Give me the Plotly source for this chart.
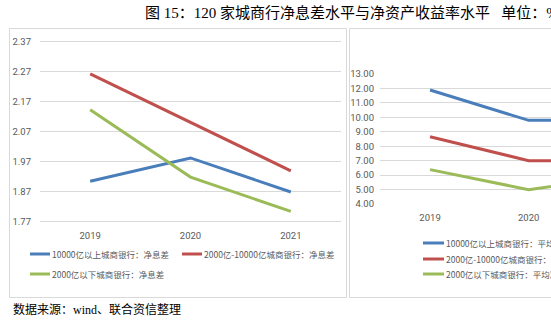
import plotly.graph_objects as go

W, H = 551, 325

years = ["2019", "2020", "2021"]
nim_large = [1.904, 1.982, 1.868]
nim_mid = [2.263, 2.102, 1.939]
nim_small = [2.143, 1.918, 1.803]
roe_large = [11.89, 9.79, 9.80]
roe_mid = [8.66, 7.00, 6.98]
roe_small = [6.38, 4.99, 5.95]

left_names = ["10000亿以上城商银行：净息差", "2000亿-10000亿城商银行：净息差", "2000亿以下城商银行：净息差"]
right_names = ["10000亿以上城商银行：平均净资产收益率", "2000亿-10000亿城商银行：平均净资产收益率",
               "2000亿以下城商银行：平均净资产收益率"]
left_ticks = [1.77, 1.87, 1.97, 2.07, 2.17, 2.27, 2.37]
right_ticks = [4, 5, 6, 7, 8, 9, 10, 11, 12, 13]
colors = ["#4a7ebb", "#c0504d", "#9bbb59"]

title_text = "图 15：120 家城商行净息差水平与净资产收益率水平   单位：%"
source_text = "数据来源：wind、联合资信整理"


def px(x):
    return x / W


def py(y):
    return 1 - y / H


LAT = "Liberation Sans Narrow, Roboto, Noto Sans CJK SC"
CJK = "Liberation Sans Narrow, Noto Sans CJK SC"
GREY = "#595959"
GRID = "#d9d9d9"

fig = go.Figure()
for vals, name, c in zip([nim_large, nim_mid, nim_small], left_names, colors):
    fig.add_trace(go.Scatter(x=years, y=vals, name=name, mode="lines", showlegend=False,
                             line=dict(color=c, width=3), xaxis="x", yaxis="y"))
for vals, name, c in zip([roe_large, roe_mid, roe_small], right_names, colors):
    fig.add_trace(go.Scatter(x=years, y=vals, name=name, mode="lines", showlegend=False,
                             line=dict(color=c, width=3), xaxis="x2", yaxis="y2"))

tickfont = dict(family=LAT, size=9.5, color=GREY)
legfont = dict(family=CJK, size=8.5, color=GREY)

shapes = [
    dict(type="rect", xref="paper", yref="paper", x0=px(9.5), x1=px(346.5), y0=py(297.5), y1=py(28.5),
         line=dict(color=GRID, width=1), layer="below"),
    dict(type="rect", xref="paper", yref="paper", x0=px(349.5), x1=px(600), y0=py(297.5), y1=py(28.5),
         line=dict(color=GRID, width=1), layer="below"),
]
annotations = [
    dict(text=title_text, x=px(143), y=py(13), xref="paper", yref="paper", xanchor="left", align="left",
         yanchor="middle", showarrow=False,
         font=dict(family="Liberation Serif, Noto Sans CJK SC", size=15, color="#000")),
    dict(text=source_text, x=px(11), y=py(309), xref="paper", yref="paper", xanchor="left", align="left",
         yanchor="middle", showarrow=False,
         font=dict(family="Liberation Serif, Noto Sans CJK SC", size=12, color="#000")),
]

# legend entries: (key start x, y) paired with series names and colours
legend_pos = [(30, 254), (182, 254), (30, 274)]
for (lx, ly), name, c in zip(legend_pos, left_names, colors):
    shapes.append(dict(type="line", xref="paper", yref="paper", x0=px(lx), x1=px(lx + 20),
                       y0=py(ly), y1=py(ly), line=dict(color=c, width=3)))
    annotations.append(dict(text=name, x=px(lx + 20), y=py(ly), xref="paper", yref="paper",
                            xanchor="left", align="left", yanchor="middle", showarrow=False,
                            font=legfont))
legend_pos_r = [(423, 243), (423, 259), (423, 274)]
for (lx, ly), name, c in zip(legend_pos_r, right_names, colors):
    shapes.append(dict(type="line", xref="paper", yref="paper", x0=px(lx), x1=px(lx + 21),
                       y0=py(ly), y1=py(ly), line=dict(color=c, width=3)))
    annotations.append(dict(text=name, x=px(lx + 21), y=py(ly), xref="paper", yref="paper",
                            xanchor="left", align="left", yanchor="middle", showarrow=False,
                            font=legfont))

fig.update_layout(
    width=W, height=H, margin=dict(l=0, r=0, t=0, b=0, autoexpand=False),
    paper_bgcolor="white", plot_bgcolor="rgba(0,0,0,0)", showlegend=False,
    xaxis=dict(domain=[px(40), px(341)], type="category", range=[-0.5, 2.5], showgrid=False,
               showline=False, zeroline=False, ticks="", tickfont=tickfont, anchor="y",
               ticklabelstandoff=6),
    yaxis=dict(domain=[py(222.8), py(40.5)], range=[1.765, 2.375], tickvals=left_ticks,
               ticktext=["%.2f" % v for v in left_ticks], gridcolor=GRID, gridwidth=1,
               zeroline=False, showline=False, ticks="", tickfont=tickfont, anchor="x",
               ticklabelstandoff=8),
    xaxis2=dict(domain=[px(380), 1], type="category", range=[-0.507, 1.226], showgrid=False,
                showline=False, zeroline=False, ticks="", tickfont=tickfont, anchor="y2",
                ticklabelstandoff=6),
    yaxis2=dict(domain=[py(204.7), py(73.3)], range=[3.95, 13.05], tickvals=right_ticks,
                ticktext=["%.2f" % v for v in right_ticks], gridcolor=GRID, gridwidth=1,
                zeroline=False, showline=False, ticks="", tickfont=tickfont, anchor="x2",
                ticklabelstandoff=5),
    shapes=shapes,
    annotations=annotations,
)

fig.write_html("out.html")
